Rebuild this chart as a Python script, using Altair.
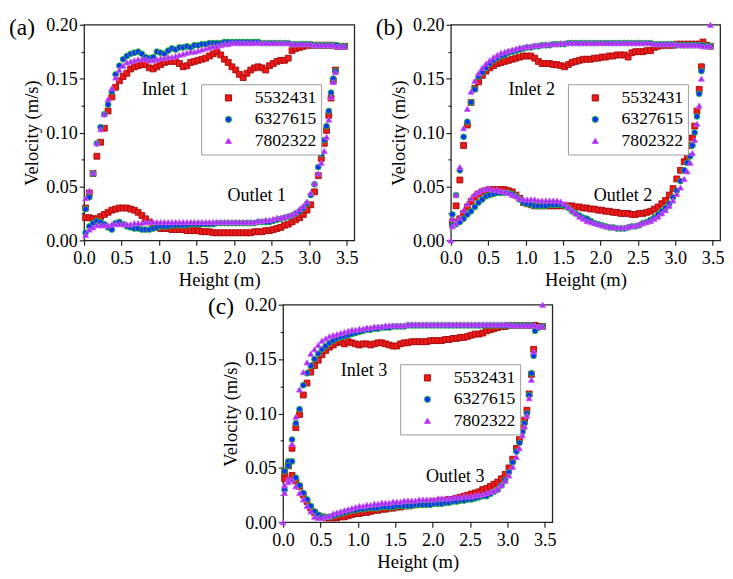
import altair as alt
import pandas as pd

SERIF = "Liberation Serif, Times New Roman, Times, DejaVu Serif, serif"
SERIES = ["5532431", "6327615", "7802322"]
FILLS = ["#f01818", "#1330ff", "#9b2ff2"]
EDGES = ["#9e0b0b", "#1fc21f", "#d050ff"]
SHAPES = ["square", "circle", "triangle-up"]

X_TICKS = [0.0, 0.5, 1.0, 1.5, 2.0, 2.5, 3.0, 3.5]
Y_TICKS = [0.0, 0.025, 0.05, 0.075, 0.10, 0.125, 0.15, 0.175, 0.20]

HEIGHT_IN = [0.02, 0.07, 0.12, 0.17, 0.22, 0.27, 0.32, 0.37, 0.42, 0.47,
             0.52, 0.57, 0.62, 0.67, 0.72, 0.77, 0.82, 0.87, 0.92, 0.97,
             1.02, 1.07, 1.12, 1.17, 1.22, 1.27, 1.32, 1.37, 1.42, 1.47,
             1.52, 1.57, 1.62, 1.67, 1.72, 1.77, 1.82, 1.87, 1.92, 1.97,
             2.02, 2.07, 2.12, 2.17, 2.22, 2.27, 2.32, 2.37, 2.42, 2.47,
             2.52, 2.57, 2.62, 2.67, 2.72, 2.77, 2.82, 2.87, 2.92, 2.97,
             3.02, 3.07, 3.12, 3.17, 3.22, 3.27, 3.32, 3.37, 3.42, 3.47]
HEIGHT_OUT = [0.02, 0.07, 0.12, 0.17, 0.22, 0.27, 0.32, 0.37, 0.42, 0.47,
              0.52, 0.57, 0.62, 0.67, 0.72, 0.77, 0.82, 0.87, 0.92, 0.97,
              1.02, 1.07, 1.12, 1.17, 1.22, 1.27, 1.32, 1.37, 1.42, 1.47,
              1.52, 1.57, 1.62, 1.67, 1.72, 1.77, 1.82, 1.87, 1.92, 1.97,
              2.02, 2.07, 2.12, 2.17, 2.22, 2.27, 2.32, 2.37, 2.42, 2.47,
              2.52, 2.57, 2.62, 2.67, 2.72, 2.77, 2.82, 2.87, 2.92, 2.97,
              3.02, 3.07, 3.12, 3.16, 3.20, 3.23, 3.26, 3.29, 3.32, 3.35]

# ---------------- panel (a) ----------------
A_IN_R = [0.030, 0.044, 0.062, 0.078, 0.091, 0.104, 0.120, 0.133, 0.142, 0.148,
          0.152, 0.155, 0.159, 0.161, 0.162, 0.163, 0.163, 0.160, 0.159, 0.161,
          0.163, 0.165, 0.166, 0.166, 0.166, 0.164, 0.161, 0.162, 0.165, 0.166,
          0.167, 0.168, 0.169, 0.171, 0.173, 0.175, 0.172, 0.168, 0.165, 0.161,
          0.158, 0.154, 0.151, 0.155, 0.158, 0.160, 0.161, 0.160, 0.158, 0.162,
          0.164, 0.166, 0.167, 0.167, 0.169, 0.176, 0.178, 0.179, 0.180, 0.181,
          0.181, 0.181, 0.181, 0.181, 0.181, 0.181, 0.181, 0.180, 0.180, 0.180]
A_IN_B = [0.029, 0.040, 0.062, 0.090, 0.105, 0.117, 0.126, 0.138, 0.154, 0.162,
          0.168, 0.171, 0.173, 0.174, 0.175, 0.173, 0.170, 0.169, 0.170, 0.175,
          0.174, 0.173, 0.176, 0.178, 0.177, 0.179, 0.179, 0.180, 0.179, 0.181,
          0.181, 0.182, 0.182, 0.183, 0.183, 0.183, 0.183, 0.184, 0.184, 0.184,
          0.184, 0.184, 0.184, 0.184, 0.184, 0.184, 0.184, 0.183, 0.183, 0.183,
          0.183, 0.183, 0.183, 0.183, 0.183, 0.182, 0.182, 0.182, 0.182, 0.182,
          0.182, 0.181, 0.181, 0.181, 0.181, 0.181, 0.181, 0.181, 0.180, 0.180]
A_IN_P = [0.039, 0.046, 0.063, 0.090, 0.103, 0.117, 0.131, 0.141, 0.151, 0.158,
          0.162, 0.165, 0.166, 0.167, 0.168, 0.168, 0.168, 0.167, 0.167, 0.168,
          0.169, 0.169, 0.170, 0.170, 0.171, 0.172, 0.173, 0.174, 0.175, 0.175,
          0.176, 0.177, 0.178, 0.179, 0.180, 0.180, 0.181, 0.182, 0.182, 0.183,
          0.183, 0.183, 0.183, 0.183, 0.183, 0.183, 0.183, 0.183, 0.183, 0.183,
          0.183, 0.183, 0.183, 0.183, 0.183, 0.182, 0.182, 0.182, 0.182, 0.182,
          0.182, 0.181, 0.181, 0.181, 0.181, 0.181, 0.181, 0.180, 0.180, 0.180]
A_OUT_R = [0.021, 0.021, 0.020, 0.020, 0.022, 0.024, 0.026, 0.028, 0.029, 0.030,
           0.030, 0.030, 0.029, 0.028, 0.026, 0.023, 0.020, 0.017, 0.014, 0.012,
           0.011, 0.011, 0.011, 0.010, 0.010, 0.010, 0.010, 0.009, 0.009, 0.009,
           0.009, 0.008, 0.008, 0.008, 0.007, 0.007, 0.007, 0.007, 0.007, 0.007,
           0.007, 0.007, 0.007, 0.007, 0.007, 0.008, 0.008, 0.008, 0.009, 0.009,
           0.010, 0.011, 0.012, 0.014, 0.015, 0.017, 0.019, 0.021, 0.024, 0.028,
           0.033, 0.045, 0.060, 0.076, 0.090, 0.102, 0.116, 0.132, 0.148, 0.158]
A_OUT_B = [0.007, 0.013, 0.016, 0.018, 0.017, 0.015, 0.012, 0.010, 0.016, 0.017,
           0.015, 0.013, 0.012, 0.011, 0.011, 0.010, 0.010, 0.010, 0.011, 0.012,
           0.013, 0.013, 0.013, 0.014, 0.014, 0.014, 0.014, 0.014, 0.015, 0.015,
           0.015, 0.015, 0.015, 0.015, 0.015, 0.016, 0.016, 0.016, 0.016, 0.016,
           0.016, 0.016, 0.016, 0.016, 0.016, 0.016, 0.017, 0.017, 0.017, 0.017,
           0.018, 0.019, 0.020, 0.021, 0.022, 0.023, 0.025, 0.027, 0.030, 0.034,
           0.042, 0.052, 0.068, 0.080, 0.093, 0.106, 0.120, 0.137, 0.150, 0.157]
A_OUT_P = [0.005, 0.010, 0.012, 0.014, 0.014, 0.014, 0.014, 0.015, 0.015, 0.015,
           0.015, 0.015, 0.015, 0.016, 0.016, 0.016, 0.017, 0.017, 0.017, 0.017,
           0.017, 0.017, 0.017, 0.017, 0.017, 0.017, 0.017, 0.017, 0.017, 0.017,
           0.017, 0.017, 0.017, 0.017, 0.017, 0.017, 0.017, 0.017, 0.017, 0.017,
           0.017, 0.017, 0.017, 0.017, 0.017, 0.017, 0.018, 0.018, 0.019, 0.019,
           0.020, 0.021, 0.021, 0.022, 0.023, 0.024, 0.026, 0.029, 0.032, 0.036,
           0.044, 0.053, 0.062, 0.072, 0.083, 0.096, 0.112, 0.133, 0.147, 0.156]

# ---------------- panel (b) ----------------
B_IN_R = [0.017, 0.032, 0.056, 0.088, 0.107, 0.128, 0.141, 0.147, 0.153, 0.157,
          0.160, 0.162, 0.164, 0.165, 0.166, 0.167, 0.168, 0.169, 0.170, 0.171,
          0.171, 0.171, 0.169, 0.166, 0.164, 0.164, 0.164, 0.163, 0.163, 0.162,
          0.161, 0.163, 0.165, 0.166, 0.167, 0.168, 0.168, 0.168, 0.169, 0.169,
          0.170, 0.170, 0.171, 0.171, 0.172, 0.172, 0.172, 0.170, 0.174, 0.175,
          0.175, 0.175, 0.176, 0.176, 0.179, 0.180, 0.181, 0.181, 0.181, 0.181,
          0.182, 0.182, 0.182, 0.182, 0.182, 0.182, 0.182, 0.184, 0.181, 0.180]
B_IN_B = [0.024, 0.042, 0.065, 0.096, 0.110, 0.128, 0.140, 0.152, 0.156, 0.160,
          0.164, 0.167, 0.169, 0.171, 0.172, 0.174, 0.175, 0.176, 0.177, 0.178,
          0.179, 0.179, 0.180, 0.180, 0.181, 0.181, 0.181, 0.182, 0.182, 0.182,
          0.182, 0.183, 0.183, 0.183, 0.183, 0.183, 0.183, 0.183, 0.183, 0.183,
          0.183, 0.183, 0.183, 0.183, 0.183, 0.183, 0.183, 0.183, 0.183, 0.183,
          0.183, 0.183, 0.183, 0.183, 0.182, 0.182, 0.182, 0.182, 0.182, 0.182,
          0.181, 0.181, 0.181, 0.181, 0.181, 0.181, 0.181, 0.181, 0.180, 0.180]
B_IN_P = [0.020, 0.042, 0.068, 0.104, 0.122, 0.138, 0.148, 0.155, 0.160, 0.164,
          0.167, 0.170, 0.172, 0.174, 0.175, 0.176, 0.177, 0.178, 0.179, 0.179,
          0.180, 0.180, 0.181, 0.181, 0.181, 0.182, 0.182, 0.182, 0.182, 0.183,
          0.183, 0.183, 0.183, 0.183, 0.183, 0.183, 0.183, 0.183, 0.183, 0.183,
          0.183, 0.183, 0.183, 0.183, 0.183, 0.183, 0.183, 0.183, 0.183, 0.183,
          0.183, 0.183, 0.183, 0.183, 0.182, 0.182, 0.182, 0.182, 0.182, 0.182,
          0.182, 0.181, 0.181, 0.181, 0.181, 0.181, 0.181, 0.180, 0.180, 0.180]
B_OUT_R = [0.015, 0.017, 0.020, 0.025, 0.031, 0.036, 0.040, 0.043, 0.045, 0.046,
           0.047, 0.047, 0.047, 0.047, 0.047, 0.046, 0.045, 0.042, 0.039, 0.035,
           0.034, 0.033, 0.032, 0.032, 0.032, 0.032, 0.032, 0.032, 0.032, 0.032,
           0.032, 0.032, 0.032, 0.031, 0.031, 0.030, 0.030, 0.029, 0.029, 0.028,
           0.028, 0.027, 0.027, 0.026, 0.026, 0.025, 0.025, 0.025, 0.024, 0.024,
           0.025, 0.025, 0.026, 0.027, 0.029, 0.031, 0.034, 0.037, 0.042, 0.048,
           0.057, 0.065, 0.073, 0.078, 0.088, 0.095, 0.106, 0.120, 0.140, 0.161]
B_OUT_B = [0.014, 0.015, 0.017, 0.020, 0.024, 0.027, 0.031, 0.035, 0.038, 0.041,
           0.042, 0.043, 0.044, 0.044, 0.044, 0.044, 0.043, 0.041, 0.038, 0.035,
           0.034, 0.033, 0.032, 0.032, 0.032, 0.032, 0.033, 0.033, 0.033, 0.033,
           0.032, 0.030, 0.027, 0.025, 0.023, 0.021, 0.020, 0.018, 0.016, 0.015,
           0.014, 0.013, 0.012, 0.012, 0.011, 0.011, 0.011, 0.012, 0.013, 0.013,
           0.014, 0.016, 0.017, 0.019, 0.021, 0.024, 0.027, 0.030, 0.034, 0.040,
           0.046, 0.055, 0.065, 0.072, 0.078, 0.088, 0.100, 0.115, 0.136, 0.157]
B_OUT_P = [0.013, 0.016, 0.021, 0.028, 0.034, 0.039, 0.043, 0.045, 0.047, 0.048,
           0.048, 0.047, 0.047, 0.046, 0.045, 0.044, 0.042, 0.041, 0.039, 0.038,
           0.038, 0.038, 0.038, 0.037, 0.037, 0.037, 0.037, 0.037, 0.037, 0.036,
           0.034, 0.031, 0.028, 0.025, 0.022, 0.020, 0.018, 0.017, 0.016, 0.015,
           0.014, 0.013, 0.013, 0.012, 0.012, 0.012, 0.012, 0.013, 0.013, 0.014,
           0.015, 0.016, 0.017, 0.018, 0.020, 0.022, 0.025, 0.028, 0.032, 0.037,
           0.043, 0.049, 0.057, 0.064, 0.072, 0.081, 0.093, 0.108, 0.125, 0.150]
B_EXTRA_H = [0.0, 3.47]
B_EXTRA_V = [0.000, 0.200]

# ---------------- panel (c) ----------------
C_IN_R = [0.040, 0.052, 0.068, 0.087, 0.099, 0.117, 0.128, 0.138, 0.144, 0.149,
          0.154, 0.158, 0.161, 0.163, 0.165, 0.166, 0.164, 0.166, 0.165, 0.164,
          0.163, 0.164, 0.164, 0.163, 0.164, 0.165, 0.165, 0.164, 0.163, 0.162,
          0.162, 0.164, 0.165, 0.165, 0.166, 0.166, 0.166, 0.166, 0.166, 0.167,
          0.167, 0.167, 0.167, 0.168, 0.168, 0.169, 0.169, 0.170, 0.170, 0.171,
          0.172, 0.173, 0.173, 0.174, 0.176, 0.177, 0.178, 0.179, 0.180, 0.180,
          0.181, 0.181, 0.181, 0.181, 0.181, 0.181, 0.181, 0.181, 0.180, 0.180]
C_IN_B = [0.030, 0.056, 0.076, 0.091, 0.104, 0.126, 0.137, 0.144, 0.150, 0.155,
          0.159, 0.162, 0.165, 0.167, 0.169, 0.170, 0.171, 0.172, 0.173, 0.174,
          0.175, 0.176, 0.177, 0.177, 0.178, 0.178, 0.179, 0.179, 0.179, 0.180,
          0.180, 0.180, 0.180, 0.181, 0.181, 0.181, 0.181, 0.181, 0.181, 0.181,
          0.181, 0.181, 0.181, 0.181, 0.181, 0.181, 0.181, 0.181, 0.181, 0.181,
          0.181, 0.181, 0.181, 0.181, 0.181, 0.181, 0.181, 0.181, 0.181, 0.181,
          0.181, 0.181, 0.181, 0.181, 0.181, 0.181, 0.181, 0.176, 0.179, 0.180]
C_IN_P = [0.027, 0.040, 0.072, 0.097, 0.122, 0.138, 0.147, 0.155, 0.159, 0.163,
          0.167, 0.169, 0.171, 0.172, 0.173, 0.174, 0.175, 0.176, 0.177, 0.177,
          0.178, 0.178, 0.179, 0.179, 0.180, 0.180, 0.180, 0.181, 0.181, 0.181,
          0.181, 0.181, 0.181, 0.182, 0.182, 0.182, 0.182, 0.182, 0.182, 0.182,
          0.182, 0.182, 0.182, 0.182, 0.182, 0.182, 0.182, 0.182, 0.182, 0.182,
          0.182, 0.182, 0.182, 0.182, 0.182, 0.182, 0.182, 0.182, 0.182, 0.182,
          0.182, 0.181, 0.181, 0.181, 0.181, 0.181, 0.181, 0.181, 0.180, 0.180]
C_OUT_R = [0.046, 0.052, 0.043, 0.038, 0.033, 0.025, 0.019, 0.013, 0.009, 0.006,
           0.005, 0.004, 0.004, 0.004, 0.004, 0.005, 0.005, 0.006, 0.007, 0.008,
           0.008, 0.009, 0.009, 0.010, 0.011, 0.011, 0.012, 0.012, 0.013, 0.013,
           0.014, 0.014, 0.015, 0.015, 0.016, 0.016, 0.017, 0.017, 0.018, 0.018,
           0.019, 0.019, 0.020, 0.020, 0.021, 0.021, 0.022, 0.023, 0.024, 0.025,
           0.026, 0.027, 0.028, 0.030, 0.031, 0.033, 0.035, 0.037, 0.040, 0.044,
           0.050, 0.058, 0.068, 0.076, 0.087, 0.094, 0.103, 0.118, 0.136, 0.159]
C_OUT_B = [0.047, 0.052, 0.056, 0.041, 0.034, 0.027, 0.021, 0.015, 0.010, 0.007,
           0.005, 0.005, 0.005, 0.006, 0.007, 0.008, 0.009, 0.010, 0.011, 0.011,
           0.012, 0.012, 0.013, 0.013, 0.013, 0.013, 0.014, 0.014, 0.014, 0.014,
           0.015, 0.015, 0.015, 0.015, 0.015, 0.016, 0.016, 0.016, 0.016, 0.016,
           0.017, 0.017, 0.017, 0.018, 0.018, 0.019, 0.019, 0.020, 0.020, 0.021,
           0.021, 0.022, 0.023, 0.024, 0.024, 0.026, 0.028, 0.030, 0.034, 0.039,
           0.046, 0.055, 0.065, 0.073, 0.083, 0.091, 0.100, 0.117, 0.137, 0.153]
C_OUT_P = [0.034, 0.037, 0.039, 0.033, 0.027, 0.021, 0.015, 0.010, 0.005, 0.004,
           0.004, 0.005, 0.006, 0.008, 0.009, 0.010, 0.011, 0.012, 0.013, 0.014,
           0.015, 0.015, 0.016, 0.016, 0.017, 0.017, 0.018, 0.018, 0.018, 0.019,
           0.019, 0.019, 0.020, 0.020, 0.020, 0.020, 0.021, 0.021, 0.021, 0.021,
           0.021, 0.022, 0.022, 0.022, 0.022, 0.023, 0.023, 0.023, 0.024, 0.024,
           0.024, 0.025, 0.025, 0.026, 0.027, 0.028, 0.029, 0.031, 0.034, 0.038,
           0.043, 0.051, 0.060, 0.068, 0.080, 0.088, 0.098, 0.114, 0.131, 0.157]
C_EXTRA_H = [0.0, 3.47]
C_EXTRA_V = [0.000, 0.200]

NOTES_A = ["Inlet 1", "Outlet 1"]
NOTES_B = ["Inlet 2", "Outlet 2"]
NOTES_C = ["Inlet 3", "Outlet 3"]
NOTE_H = [0.77, 1.91]
NOTE_V = [0.140, 0.042]


def build_points(ins, outs, extra_h, extra_v):
    rows = []
    for i, s in enumerate(SERIES):
        assert len(ins[i]) == len(HEIGHT_IN) and len(outs[i]) == len(HEIGHT_OUT)
        for h, v in zip(HEIGHT_IN, ins[i]):
            rows.append({"series": s, "height": h, "velocity": v})
        for h, v in zip(HEIGHT_OUT, outs[i]):
            rows.append({"series": s, "height": h, "velocity": v})
        if i == 2:
            for h, v in zip(extra_h, extra_v):
                rows.append({"series": s, "height": h, "velocity": v})
    return pd.DataFrame(rows)


MAJOR_Y = "round(datum.value * 40) % 2 == 0"


def x_enc():
    return alt.X("height:Q",
                 scale=alt.Scale(domain=[0, 3.6], nice=False, zero=False, padding=0),
                 axis=alt.Axis(values=X_TICKS, format=".1f", title="Height (m)",
                               labelOverlap=False, labelFlush=False, labelPadding=4))


def y_enc():
    return alt.Y("velocity:Q",
                 scale=alt.Scale(domain=[0, 0.2], nice=False, zero=False, padding=0),
                 axis=alt.Axis(values=Y_TICKS, title="Velocity (m/s)",
                               labelOverlap=False, labelFlush=False, labelPadding=2,
                               labelExpr=f"{MAJOR_Y} ? format(datum.value, '.2f') : ''",
                               tickSize={"condition": {"test": MAJOR_Y, "value": 5}, "value": 3}))


def make_panel(label, ins, outs, extra_h, extra_v, notes, width, height):
    df = build_points(ins, outs, extra_h, extra_v)
    leg = alt.Legend(title=None, orient="none", legendX=120, legendY=61,
                     strokeColor="#9a9a9a", fillColor="white", padding=5,
                     symbolOffset=14, labelOffset=18, rowPadding=4,
                     labelFont=SERIF, labelFontSize=18, labelColor="black",
                     symbolSize=40, symbolStrokeWidth=1)
    pts = alt.Chart(df).mark_point(filled=True, size=36, strokeWidth=0.9, opacity=1).encode(
        x=x_enc(),
        y=y_enc(),
        fill=alt.Fill("series:N", scale=alt.Scale(domain=SERIES, range=FILLS), legend=leg),
        stroke=alt.Stroke("series:N", scale=alt.Scale(domain=SERIES, range=EDGES), legend=leg),
        shape=alt.Shape("series:N", scale=alt.Scale(domain=SERIES, range=SHAPES), legend=leg),
    )
    notes_df = pd.DataFrame({"text": notes, "height": NOTE_H, "velocity": NOTE_V})
    txt = alt.Chart(notes_df).mark_text(align="left", baseline="middle", font=SERIF,
                                        fontSize=18.5, color="black").encode(
        x=x_enc(), y=y_enc(), text="text:N")
    lab = alt.Chart(pd.DataFrame({"t": [label]})).mark_text(
        align="left", baseline="middle", font=SERIF, fontSize=24, color="black").encode(
        x=alt.value(-77), y=alt.value(3), text="t:N")
    return alt.layer(pts, txt, lab).properties(width=width, height=height)


pa = make_panel("(a)", [A_IN_R, A_IN_B, A_IN_P], [A_OUT_R, A_OUT_B, A_OUT_P], [], [], NOTES_A, 277, 221)
pb = make_panel("(b)", [B_IN_R, B_IN_B, B_IN_P], [B_OUT_R, B_OUT_B, B_OUT_P], B_EXTRA_H, B_EXTRA_V, NOTES_B, 276, 221)
pc = make_panel("(c)", [C_IN_R, C_IN_B, C_IN_P], [C_OUT_R, C_OUT_B, C_OUT_P], C_EXTRA_H, C_EXTRA_V, NOTES_C, 276, 223)

spacer = alt.Chart(pd.DataFrame({"z": [0]})).mark_point(opacity=0, size=1).encode(
    x=alt.value(0), y=alt.value(0)).properties(width=126, height=10, view=alt.ViewBackground(strokeOpacity=0))

RES = dict(fill="independent", stroke="independent", shape="independent", x="independent", y="independent")
LRES = dict(fill="independent", stroke="independent", shape="independent")

top = alt.hconcat(pa, pb, spacing=16).resolve_scale(**RES).resolve_legend(**LRES)
bottom = alt.hconcat(spacer, pc, spacing=0).resolve_scale(**RES).resolve_legend(**LRES)
chart = alt.vconcat(top, bottom, spacing=4).resolve_scale(**RES).resolve_legend(**LRES).properties(
    padding=0, background="white"
).configure_view(stroke="#222222", strokeWidth=1.3).configure_axis(
    domain=False, grid=False, tickColor="#222222", tickSize=5, tickWidth=1.2,
    labelFont=SERIF, labelFontSize=18.5, labelColor="black",
    titleFont=SERIF, titleFontSize=19, titleFontWeight="normal", titleColor="black", titlePadding=4,
    labelOverlap=False,
)

chart.save("out.html", embed_options={"renderer": "svg", "actions": False})
